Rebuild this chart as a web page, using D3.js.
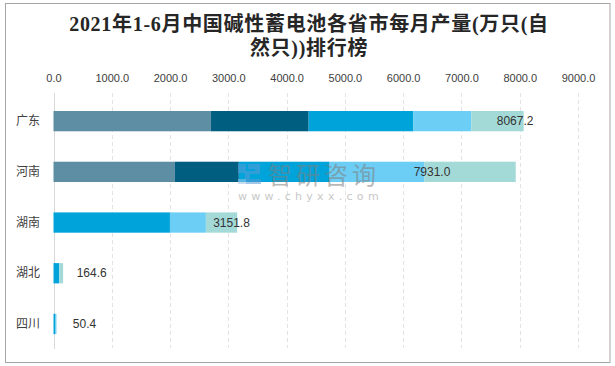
<!DOCTYPE html>
<html>
<head>
<meta charset="utf-8">
<script src="https://cdn.jsdelivr.net/npm/d3@7/dist/d3.min.js"></script>
<style>
html,body{margin:0;padding:0;background:#fff;}
svg{display:block;}
</style>
</head>
<body>
<svg id="chart" width="615" height="366"></svg>
<script>
// ---- data ----
const titleLines = ["2021年1-6月中国碱性蓄电池各省市每月产量(万只(自", "然只))排行榜"];
const provinces = ["广东", "河南", "湖南", "湖北", "四川"];
const totals = [8067.2, 7931.0, 3151.8, 164.6, 50.4];
const series1 = [2700, 2084, 0, 0, 0];
const series2 = [1678, 1096, 0, 0, 0];
const series3 = [1798, 1558, 1998, 95, 35];
const series4 = [994, 1627, 617, 10, 15.4];
const series5 = [897.2, 1566, 536.8, 59.6, 0];
const tickValues = [0, 1000, 2000, 3000, 4000, 5000, 6000, 7000, 8000, 9000];
const seriesColors = ["#5e8ea4", "#005e80", "#00a3da", "#6ccef5", "#a3d9d6"];

// ---- drawing ----
const svg = d3.select("#chart");
const W = 615, H = 366;
const margin = {left: 53.5, right: 37, top: 95.8, bottom: 16.7};

// frame
svg.append("rect").attr("x", 5.5).attr("y", 3.5).attr("width", 604.5).attr("height", 359)
  .attr("fill", "#fff").attr("stroke", "#a6a6a6").attr("stroke-width", 1);

// title
const title = svg.append("text").attr("text-anchor", "middle")
  .attr("font-family", "'Liberation Serif','Noto Sans CJK SC',serif")
  .attr("font-weight", "bold").attr("font-size", 20).attr("fill", "#262626")
  .attr("letter-spacing", 0.7);
titleLines.forEach((t, i) => {
  title.append("tspan").attr("x", 309).attr("y", 31 + i * 24).text(t);
});

const x = d3.scaleLinear().domain([0, 9000]).range([margin.left, W - margin.right]);
const y = d3.scaleBand().domain(provinces).range([margin.top, H - margin.bottom])
  .paddingInner(0.6).paddingOuter(0.3);

// gridlines
svg.append("g").selectAll("line").data(tickValues.slice(1)).join("line")
  .attr("x1", d => Math.round(x(d)) + 0.5).attr("x2", d => Math.round(x(d)) + 0.5)
  .attr("y1", 93).attr("y2", 348)
  .attr("stroke", "#e3e3e3").attr("stroke-width", 1).attr("stroke-dasharray", "4,3");

// left axis line
svg.append("line").attr("x1", Math.round(x(0)) + 0.5).attr("x2", Math.round(x(0)) + 0.5)
  .attr("y1", 93).attr("y2", 349).attr("stroke", "#d9d9d9");

// top tick labels
const xAxis = d3.axisTop(x).tickValues(tickValues).tickFormat(d3.format(".1f")).tickSize(0).tickPadding(0);
const ax = svg.append("g").attr("transform", "translate(0,82)").call(xAxis);
ax.select(".domain").remove();
ax.selectAll("text").attr("font-family", "'Liberation Sans','DejaVu Sans',sans-serif")
  .attr("font-size", 11).attr("fill", "#404040");

// category labels
svg.append("g").selectAll("text").data(provinces).join("text")
  .attr("x", 28).attr("y", d => y(d) + y.bandwidth() / 2)
  .attr("dy", "0.35em").attr("text-anchor", "middle")
  .attr("font-family", "'Noto Sans CJK SC',sans-serif").attr("font-size", 12)
  .attr("fill", "#404040").text(d => d);

// stacked bars
const allSeries = [series1, series2, series3, series4, series5];
const rows = provinces.map((p, i) => {
  const o = {province: p};
  allSeries.forEach((s, k) => o["s" + k] = s[i]);
  return o;
});
const stack = d3.stack().keys(allSeries.map((s, k) => "s" + k));
const stacked = stack(rows);
svg.append("g").selectAll("g").data(stacked).join("g")
  .attr("fill", (d, k) => seriesColors[k])
  .selectAll("rect").data(d => d).join("rect")
  .attr("x", d => x(d[0])).attr("width", d => Math.max(0, x(d[1]) - x(d[0])))
  .attr("y", d => y(d.data.province)).attr("height", y.bandwidth());

// total labels (placed where the original chart puts them, in data units)
const labelAt = [7920, 6495, 3054, 655, 532];
svg.append("g").selectAll("text").data(provinces).join("text")
  .attr("x", (d, i) => x(labelAt[i])).attr("y", d => y(d) + y.bandwidth() / 2)
  .attr("dy", "0.35em").attr("text-anchor", "middle")
  .attr("font-family", "'Liberation Sans','DejaVu Sans',sans-serif").attr("font-size", 12)
  .attr("fill", "#333").text((d, i) => totals[i].toFixed(1));

// watermark
const wm = svg.append("g").attr("opacity", 0.55);
wm.append("rect").attr("x", 238).attr("y", 164).attr("width", 8).attr("height", 9).attr("fill", "#5b9bd5");
wm.append("path").attr("d", "M248,164 h12 v10 h-10 v5 h11 v5 h-16 v-13 h10 v-2 h-7 z").attr("fill", "#5b9bd5");
wm.append("rect").attr("x", 238).attr("y", 179).attr("width", 8).attr("height", 5).attr("fill", "#9cc3e6");
wm.append("text").attr("x", 268).attr("y", 184).attr("font-family", "'Noto Sans CJK SC',sans-serif")
  .attr("font-size", 24).attr("fill", "#7f7f7f").attr("letter-spacing", 4).text("智研咨询");
wm.append("text").attr("x", 238).attr("y", 200).attr("font-family", "'DejaVu Sans',sans-serif")
  .attr("font-size", 11).attr("fill", "#9a9a9a").attr("letter-spacing", 4.3).text("www.chyxx.com");
</script>
</body>
</html>
